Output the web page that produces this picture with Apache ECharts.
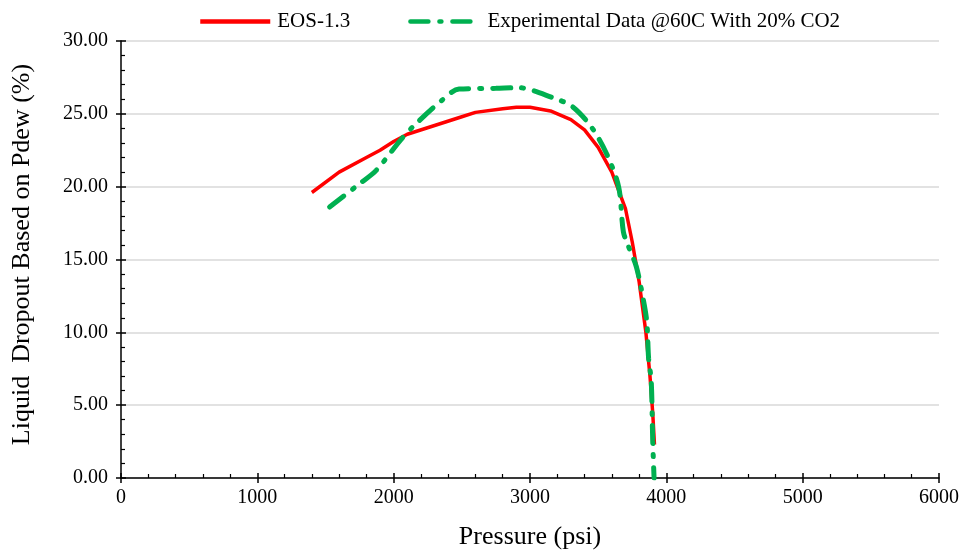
<!DOCTYPE html>
<html>
<head>
<meta charset="utf-8">
<script src="https://cdn.jsdelivr.net/npm/echarts@6/dist/echarts.min.js"></script>
<style>
html,body{margin:0;padding:0;background:#fff;}
#chart{width:966px;height:551px;}
</style>
</head>
<body>
<div id="chart"></div>
<script>
// EOS-1.3 model curve: pressure (psi), liquid dropout (%)
const eosPressure = [1400, 1600, 1800, 1900, 2000, 2100, 2300, 2500, 2600, 2800, 2900, 3000, 3150, 3300, 3400, 3500, 3600, 3700, 3750, 3800, 3850, 3880, 3900, 3913];
const eosDropout  = [19.6, 21.0, 22.0, 22.5, 23.1, 23.6, 24.2, 24.8, 25.1, 25.35, 25.45, 25.45, 25.2, 24.6, 23.9, 22.7, 21.0, 18.5, 16.2, 13.5, 10.0, 7.0, 4.5, 2.3];
// Experimental data @60C with 20% CO2
const expPressure = [1530, 1750, 1870, 2050, 2150, 2350, 2480, 2750, 2910, 3170, 3310, 3450, 3560, 3650, 3685, 3722, 3780, 3830, 3857, 3870, 3889, 3900, 3910];
const expDropout  = [18.6, 20.2, 21.1, 23.2, 24.2, 25.9, 26.7, 26.75, 26.8, 26.1, 25.5, 24.1, 22.3, 20.0, 16.9, 15.9, 14.5, 12.3, 10.7, 8.2, 6.7, 2.6, 0.0];
const xTicks = [0, 1000, 2000, 3000, 4000, 5000, 6000];
const yTicks = [0, 5, 10, 15, 20, 25, 30];

const font = 'Liberation Serif';
const pair = (xs, ys) => xs.map((x, i) => [x, ys[i]]);

const chart = echarts.init(document.getElementById('chart'));
const baseX = {
  type: 'value', min: xTicks[0], max: xTicks[xTicks.length - 1], interval: 1000
};
const baseY = {
  type: 'value', min: yTicks[0], max: yTicks[yTicks.length - 1], interval: 5
};
chart.setOption({
  animation: false,
  backgroundColor: '#fff',
  legend: {
    top: 6, left: 193, itemWidth: 70, itemHeight: 14, itemGap: 58,
    itemStyle: { opacity: 0 },
    lineStyle: { width: 4.5 },
    textStyle: { fontFamily: font, fontSize: 21, color: '#000', padding: [0, 0, 0, 2] },
    data: ['EOS-1.3', 'Experimental Data @60C With 20% CO2']
  },
  grid: { left: 121, right: 27, top: 41, bottom: 73, outerBoundsMode: 'none', containLabel: false },
  xAxis: [
    Object.assign({}, baseX, {
      name: 'Pressure (psi)', nameLocation: 'middle', nameGap: 46,
      nameTextStyle: { fontFamily: font, fontSize: 26, color: '#000' },
      axisLine: { show: true, onZero: false, lineStyle: { color: '#000', width: 1.5 } },
      axisTick: { show: true, inside: true, length: 5, lineStyle: { color: '#000', width: 1.5 } },
      minorTick: { show: true, splitNumber: 5, length: 4, lineStyle: { color: '#000', width: 1.2 } },
      axisLabel: { fontFamily: font, fontSize: 20, color: '#000', margin: 10, formatter: v => String(v) },
      splitLine: { show: false }
    }),
    Object.assign({}, baseX, {
      position: 'bottom', gridIndex: 0,
      axisLine: { show: false },
      axisTick: { show: true, inside: false, length: 5, lineStyle: { color: '#000', width: 1.5 } },
      axisLabel: { show: false }, splitLine: { show: false }
    })
  ],
  yAxis: [
    Object.assign({}, baseY, {
      name: 'Liquid  Dropout Based on Pdew (%)', nameLocation: 'middle', nameGap: 86,
      nameTextStyle: { fontFamily: font, fontSize: 26, color: '#000', padding: [0, 0, 0, 10] },
      axisLine: { show: true, onZero: false, lineStyle: { color: '#000', width: 1.5 } },
      axisTick: { show: true, inside: true, length: 5, lineStyle: { color: '#000', width: 1.5 } },
      minorTick: { show: true, splitNumber: 5, length: 4, lineStyle: { color: '#000', width: 1.2 } },
      axisLabel: { fontFamily: font, fontSize: 20, color: '#000', margin: 13, formatter: v => v.toFixed(2) },
      splitLine: { show: true, lineStyle: { color: '#d9d9d9', width: 1.5 } }
    }),
    Object.assign({}, baseY, {
      position: 'left',
      axisLine: { show: false },
      axisTick: { show: true, inside: false, length: 5, lineStyle: { color: '#000', width: 1.5 } },
      axisLabel: { show: false }, splitLine: { show: false }
    })
  ],
  series: [
    {
      name: 'EOS-1.3', type: 'line', symbol: 'none', smooth: false,
      data: pair(eosPressure, eosDropout),
      itemStyle: { color: '#ff0000' },
      lineStyle: { color: '#ff0000', width: 3.5 }
    },
    {
      name: 'Experimental Data @60C With 20% CO2', type: 'line', symbol: 'none', smooth: 0.3,
      data: pair(expPressure, expDropout),
      itemStyle: { color: '#00b050' },
      lineStyle: { color: '#00b050', width: 5, type: [18, 11, 2, 11], cap: 'round' }
    }
  ]
});
</script>
</body>
</html>
